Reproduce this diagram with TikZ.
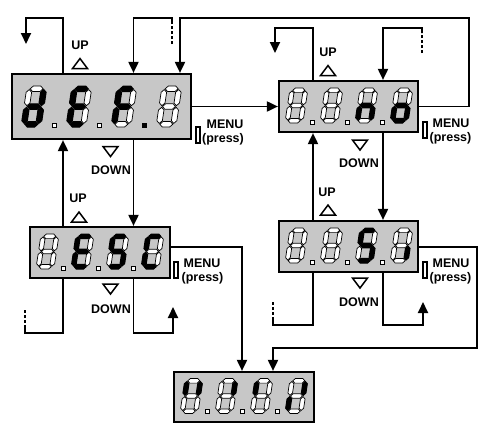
\documentclass[tikz,border=0pt]{standalone}
\usepackage{fontspec}
\setmainfont{Liberation Sans}
\usetikzlibrary{arrows.meta,calc}

\tikzset{
 segX/.style={fill=black,draw=black,line width=1pt,line join=miter},
 segO/.style={fill=white,draw=black,line width=0.7pt,line join=miter},
 disp/.style={draw=black,line width=2.2pt,fill=black!22,inner sep=0pt},
 conn/.style={draw=black,line width=1.9pt,line join=miter},
 arr/.style={conn,-{Triangle[length=11pt,width=10pt]}},
 dashline/.style={conn,dash pattern=on 3pt off 2pt},
 lbl/.style={font=\bfseries\fontsize{12.5}{12.5}\selectfont,inner sep=0pt},
 tri/.style={draw=black,line width=1.5pt,fill=white,line join=miter},
 menuicon/.style={draw=black,line width=1.3pt,fill=white},
}

\newcommand\setdig[5]{\def\SgW{#1}\def\SgH{#2}\def\SgT{#3}\def\SgG{#4}\def\SgS{#5}%
 \pgfmathsetmacro\SgX{#1/2-#3/2}\pgfmathsetmacro\SgY{#2/2-#3/2}\pgfmathsetmacro\Sgh{#3/2}}
\newcommand\hsg[2]{%
 \path[seg#1] ({-\SgX+\SgG},{#2}) -- ({-\SgX+\SgG+\Sgh},{#2-\Sgh}) -- ({\SgX-\SgG-\Sgh},{#2-\Sgh}) -- ({\SgX-\SgG},{#2}) -- ({\SgX-\SgG-\Sgh},{#2+\Sgh}) -- ({-\SgX+\SgG+\Sgh},{#2+\Sgh}) -- cycle;}
\newcommand\vsg[4]{%
 \path[seg#1] ({#2},{#3+\SgG}) -- ({#2+\Sgh},{#3+\SgG+\Sgh}) -- ({#2+\Sgh},{#4-\SgG-\Sgh}) -- ({#2},{#4-\SgG}) -- ({#2-\Sgh},{#4-\SgG-\Sgh}) -- ({#2-\Sgh},{#3+\SgG+\Sgh}) -- cycle;}
\newcommand\sevseg[8]{%
 \begin{scope}[shift={#1},xslant=\SgS]
  \hsg{#2}{-\SgY}
  \vsg{#3}{\SgX}{-\SgY}{0}
  \vsg{#4}{\SgX}{0}{\SgY}
  \hsg{#5}{\SgY}
  \vsg{#6}{-\SgX}{0}{\SgY}
  \vsg{#7}{-\SgX}{-\SgY}{0}
  \hsg{#8}{0}
 \end{scope}}
\newcommand\dpt[2]{\path[seg#2] #1 ++(-2,-2) rectangle ++(4,4);}
\newcommand\uptri[1]{\draw[tri] #1 ++(-7.5,5) -- ++(15,0) -- ++(-7.5,-10) -- cycle;}
\newcommand\dntri[1]{\draw[tri] #1 ++(-7.5,-5) -- ++(15,0) -- ++(-7.5,10) -- cycle;}

\begin{document}
\begin{tikzpicture}[x=1pt,y=-1pt]
\useasboundingbox (0,0) rectangle (488,432);

% display boxes
\node[disp,minimum width=179pt,minimum height=65pt] (def) at (101.5,106.5) {};
\node[disp,minimum width=139pt,minimum height=51pt] (no)  at (348.5,106.5) {};
\node[disp,minimum width=140pt,minimum height=51pt] (esc) at (100,252.5) {};
\node[disp,minimum width=139pt,minimum height=51pt] (s)   at (348.5,246.5) {};
\node[disp,minimum width=140pt,minimum height=50pt] (bot) at (244,397) {};

% digits: def
\setdig{20}{41}{5.5}{0.8}{0.15}
\sevseg{(34,106.5)}{O}{X}{X}{X}{X}{O}{X}
\sevseg{(79,106.5)}{X}{O}{O}{X}{X}{X}{X}
\sevseg{(124,106.5)}{X}{O}{O}{O}{X}{X}{X}
\sevseg{(169,106.5)}{O}{O}{O}{O}{O}{O}{O}
\dpt{(54,125)}{O}\dpt{(99,125)}{O}\dpt{(144,125)}{X}

\setdig{18}{35}{4.6}{0.7}{0.15}
% no
\sevseg{(296.5,105.5)}{O}{O}{O}{O}{O}{O}{O}
\sevseg{(331.5,105.5)}{O}{O}{O}{O}{O}{O}{O}
\sevseg{(366.5,105.5)}{O}{O}{X}{O}{X}{O}{X}
\sevseg{(401.5,105.5)}{O}{O}{X}{X}{X}{O}{X}
\dpt{(312,122)}{O}\dpt{(347,122)}{O}\dpt{(382,122)}{O}
% esc
\sevseg{(47.5,251.5)}{O}{O}{O}{O}{O}{O}{O}
\sevseg{(82.5,251.5)}{X}{O}{O}{X}{X}{X}{X}
\sevseg{(117.5,251.5)}{X}{O}{X}{X}{O}{X}{X}
\sevseg{(152.5,251.5)}{X}{O}{O}{X}{X}{X}{O}
\dpt{(63,268)}{O}\dpt{(98,268)}{O}\dpt{(133,268)}{O}
% s
\sevseg{(296.5,245.5)}{O}{O}{O}{O}{O}{O}{O}
\sevseg{(331.5,245.5)}{O}{O}{O}{O}{O}{O}{O}
\sevseg{(366.5,245.5)}{X}{O}{X}{X}{O}{X}{X}
\sevseg{(401.5,245.5)}{O}{O}{X}{O}{O}{O}{O}
\dpt{(312,262)}{O}\dpt{(347,262)}{O}\dpt{(382,262)}{O}
% bottom
\sevseg{(191.5,396)}{O}{X}{O}{O}{O}{X}{O}
\sevseg{(226.5,396)}{O}{X}{O}{O}{O}{O}{O}
\sevseg{(261.5,396)}{O}{O}{O}{O}{O}{X}{O}
\sevseg{(296.5,396)}{O}{X}{O}{O}{X}{O}{O}
\dpt{(207,411)}{O}\dpt{(242,411)}{O}\dpt{(277,411)}{O}

% columns and corners
\coordinate (c1) at (63,0);
\coordinate (c2) at (133.5,0);
\coordinate (c3) at (313,0);
\coordinate (c4) at (383,0);
\coordinate (c5) at (180,0);
\coordinate (c6) at (242,0);
\coordinate (c7) at (273,0);
\coordinate (ey) at (0,247);
\coordinate (lp1) at (26,18);   \coordinate (lp1e) at (26,44);
\coordinate (d1a) at (172,18);  \coordinate (d1m) at (172,23); \coordinate (d1e) at (172,44);
\coordinate (rt) at (469,18);
\coordinate (lp2) at (275,28);  \coordinate (lp2e) at (275,53);
\coordinate (n1a) at (422,28);  \coordinate (n1m) at (422,33); \coordinate (n1e) at (422,53);
\coordinate (e1) at (25,333);   \coordinate (e1m) at (25,328); \coordinate (e1e) at (25,309);
\coordinate (e2) at (173,333);  \coordinate (e2e) at (173,307);
\coordinate (s1) at (273,325);  \coordinate (s1m) at (273,320); \coordinate (s1e) at (273,302);
\coordinate (s2) at (423,325);  \coordinate (s2e) at (423,302);
\coordinate (sr) at (477,348);

% def connectors
\draw[arr] (def.north -| c1) |- (lp1) -- (lp1e);
\draw[dashline] (d1e) -- (d1m);
\draw[arr] (d1m) -- (d1a) -| (def.north -| c2);
\draw[arr] (no.east) -| (rt) -| (def.north -| c5);
\draw[arr] (def.east) -- (no.west);
\draw[arr] (esc.north -| c1) -- (def.south -| c1);
\draw[arr] (def.south -| c2) -- (esc.north -| c2);
% esc connectors
\draw[conn] (esc.south -| c1) |- (e1) -- (e1m);
\draw[dashline] (e1m) -- (e1e);
\draw[arr] (esc.south -| c2) |- (e2) -- (e2e);
\draw[arr] (esc.east |- ey) -| (bot.north -| c6);
% no connectors
\draw[arr] (no.north -| c3) |- (lp2) -- (lp2e);
\draw[dashline] (n1e) -- (n1m);
\draw[arr] (n1m) -- (n1a) -| (no.north -| c4);
\draw[arr] (s.north -| c3) -- (no.south -| c3);
\draw[arr] (no.south -| c4) -- (s.north -| c4);
% s connectors
\draw[conn] (s.south -| c3) |- (s1) -- (s1m);
\draw[dashline] (s1m) -- (s1e);
\draw[arr] (s.south -| c4) |- (s2) -- (s2e);
\draw[arr] (s.east |- ey) -| (sr) -| (bot.north -| c7);

% labels: def
\node[lbl] (upa) at (80,45) {UP};      \uptri{(80,63.5)}
\dntri{(110.5,151.5)}                  \node[lbl] (dna) at (111,170) {DOWN};
\path[menuicon] (196,127) rectangle (200,143);
\node[lbl] (mna) at (225,124) {MENU};  \node[lbl] (pra) at (223,139) {(press)};
% esc
\node[lbl] (upb) at (78,198) {UP};     \uptri{(79,217)}
\dntri{(110.5,289)}                    \node[lbl] (dnb) at (111,309) {DOWN};
\path[menuicon] (174,262) rectangle (178,278);
\node[lbl] (mnb) at (202,263) {MENU};  \node[lbl] (prb) at (202.5,278) {(press)};
% no
\node[lbl] (upc) at (328,52) {UP};     \uptri{(328,70.5)}
\dntri{(360,145)}                      \node[lbl] (dnc) at (359,163) {DOWN};
\path[menuicon] (423,122) rectangle (427,138);
\node[lbl] (mnc) at (451,123) {MENU};  \node[lbl] (prc) at (450.5,138.5) {(press)};
% s
\node[lbl] (upd) at (327,192) {UP};    \uptri{(328,210)}
\dntri{(360,283)}                      \node[lbl] (dnd) at (359,302) {DOWN};
\path[menuicon] (423,262) rectangle (427,278);
\node[lbl] (mnd) at (451,263) {MENU};  \node[lbl] (prd) at (450.5,278) {(press)};
\end{tikzpicture}
\end{document}
